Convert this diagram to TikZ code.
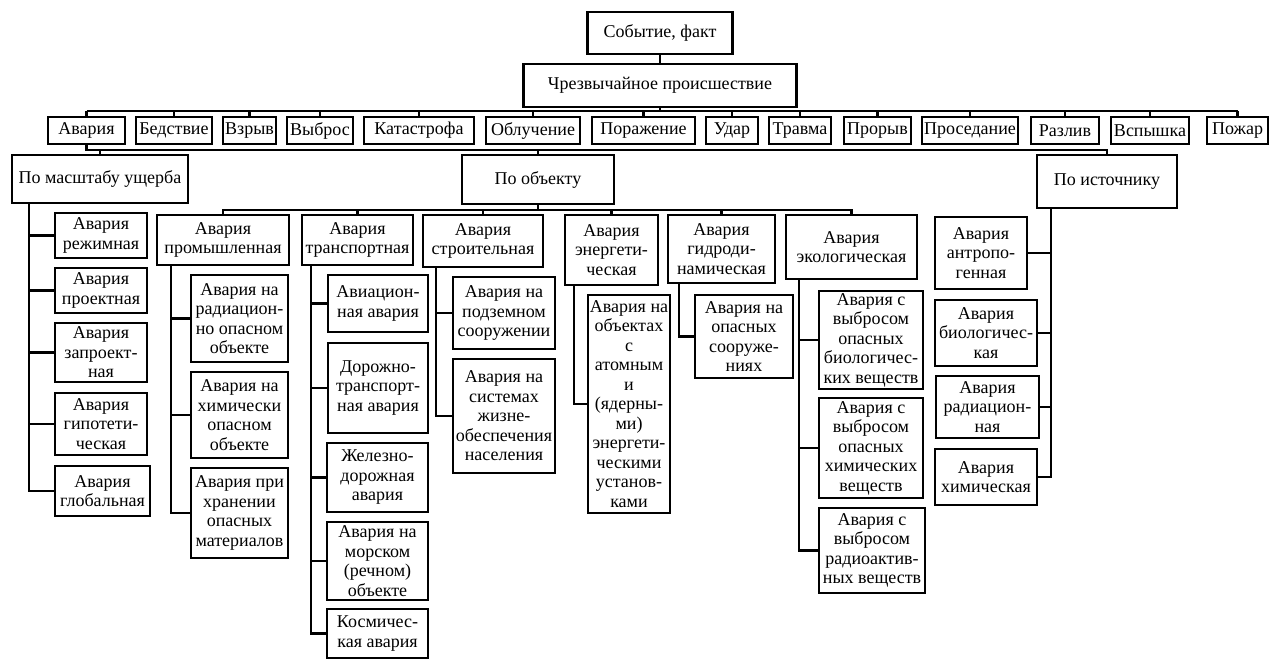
\documentclass[tikz,border=0pt]{standalone}
\usepackage{fontspec}
\setmainfont{Liberation Serif}
\begin{document}
\begin{tikzpicture}[x=1pt, y=-1pt,
    box/.style 2 args={draw, line width=2.6pt, align=center, inner sep=1pt,
      minimum width=#1, minimum height=#2, font=\fontsize{18}{19.5}\selectfont},
    link/.style={line width=2.2pt}]
  \useasboundingbox (0,0) rectangle (1276,659);
  % top
  \node[box={145}{42}] (sob) at (660,33) {Событие, факт};
  \node[box={273}{43}] (chp) at (660,85.5) {Чрезвычайное происшествие};
  % events
  \node[box={77}{27}] (avar) at (86.5,130.5) {Авария};
  \node[box={76}{27}] (bedst) at (174,130.5) {Бедствие};
  \node[box={53}{27}] (vzryv) at (249.5,130.5) {Взрыв};
  \node[box={66}{27}] (vybr) at (320,130.5) {Выброс};
  \node[box={110}{27}] (katas) at (419,130.5) {Катастрофа};
  \node[box={94}{27}] (obluch) at (533,130.5) {Облучение};
  \node[box={103}{27}] (porazh) at (643.5,130.5) {Поражение};
  \node[box={52}{27}] (udar) at (732,130.5) {Удар};
  \node[box={62}{27}] (travma) at (800,130.5) {Травма};
  \node[box={67}{27}] (proryv) at (877.5,130.5) {Прорыв};
  \node[box={96}{27}] (prosed) at (970,130.5) {Проседание};
  \node[box={68}{27}] (razliv) at (1065,130.5) {Разлив};
  \node[box={78}{27}] (vspysh) at (1150,130.5) {Вспышка};
  \node[box={61}{27}] (pozhar) at (1237.5,130.5) {Пожар};
  % classes
  \node[box={176}{48}] (masht) at (100,179) {По масштабу ущерба};
  \node[box={152}{49}] (obj) at (538,179.5) {По объекту};
  \node[box={140}{53}] (ist) at (1107,181.5) {По источнику};
  % by scale
  \node[box={92}{45}] (rezh) at (101,235.5) {Авария\\режимная};
  \node[box={92}{45}] (proekt) at (101,290.5) {Авария\\проектная};
  \node[box={92}{59}] (zaproekt) at (101,352.5) {Авария\\запроект-\\ная};
  \node[box={92}{62}] (gipot) at (101,424) {Авария\\гипотети-\\ческая};
  \node[box={95}{50}] (glob) at (102.5,491) {Авария\\глобальная};
  % by object
  \node[box={132}{50}] (prom) at (223,240) {Авария\\промышленная};
  \node[box={111}{50}] (trans) at (357.5,240) {Авария\\транспортная};
  \node[box={120}{52}] (stroit) at (483,241) {Авария\\строительная};
  \node[box={93}{70}] (energ) at (611.5,250) {Авария\\энергети-\\ческая};
  \node[box={107}{68}] (gidro) at (721.5,249) {Авария\\гидроди-\\намическая};
  \node[box={131}{64}] (ekol) at (851.5,247) {Авария\\экологическая};
  \node[box={97}{87}] (radob) at (239.5,318.5) {Авария на\\радиацион-\\но опасном\\объекте};
  \node[box={97}{86}] (khimob) at (239.5,415) {Авария на\\химически\\опасном\\объекте};
  \node[box={97}{90}] (khran) at (239.5,513) {Авария при\\хранении\\опасных\\материалов};
  \node[box={100}{57}] (avia) at (378,303.5) {Авиацион-\\ная авария};
  \node[box={100}{90}] (dtp) at (378,388) {Дорожно-\\транспорт-\\ная авария};
  \node[box={101}{69}] (zhd) at (377.5,477.5) {Железно-\\дорожная\\авария};
  \node[box={101}{78}] (morsk) at (377.5,561) {Авария на\\морском\\(речном)\\объекте};
  \node[box={101}{49}] (kosm) at (377.5,633.5) {Космичес-\\кая авария};
  \node[box={102}{72}] (podz) at (504,313) {Авария на\\подземном\\сооружении};
  \node[box={102}{114}] (sist) at (504,416) {Авария на\\системах\\жизне-\\обеспечения\\населения};
  \node[box={82}{218}] (atom) at (629,404) {Авария на\\объектах\\с\\атомным\\и\\(ядерны-\\ми)\\энергети-\\ческими\\установ-\\ками};
  \node[box={98}{83}] (opsoor) at (744,336.5) {Авария на\\опасных\\сооруже-\\ниях};
  \node[box={104}{98}] (biolv) at (871,340) {Авария с\\выбросом\\опасных\\биологичес-\\ких веществ};
  \node[box={104}{100}] (khimv) at (871,448) {Авария с\\выбросом\\опасных\\химических\\веществ};
  \node[box={106}{85}] (radv) at (872,550.5) {Авария с\\выбросом\\радиоактив-\\ных веществ};
  % by source
  \node[box={92}{72}] (antrop) at (981,253) {Авария\\антропо-\\генная};
  \node[box={102}{66}] (biolog) at (986,333) {Авария\\биологичес-\\кая};
  \node[box={103}{62}] (radiac) at (987.5,407) {Авария\\радиацион-\\ная};
  \node[box={102}{56}] (khimich) at (986,477) {Авария\\химическая};

  \coordinate (b1) at (0,111);
  \coordinate (b2) at (0,150);
  \coordinate (b3) at (0,210);
  \coordinate (t1) at ([xshift=18pt]masht.south west);
  \coordinate (t2) at ([xshift=15pt]prom.south west);
  \coordinate (t3) at ([xshift=10pt]trans.south west);
  \coordinate (t4) at ([xshift=14pt]stroit.south west);
  \coordinate (t5) at ([xshift=10pt]energ.south west);
  \coordinate (t6) at ([xshift=12pt]gidro.south west);
  \coordinate (t7) at ([xshift=14pt]ekol.south west);
  \coordinate (t8) at ([xshift=15pt]ist.south west);

  \begin{scope}[link]
    \draw (sob) -- (chp);
    \draw (chp.south) -- (chp |- b1);
    \draw (avar |- b1) -- (pozhar |- b1);
    \draw (avar.north) -- (avar |- b1);
    \draw (bedst.north) -- (bedst |- b1);
    \draw (vzryv.north) -- (vzryv |- b1);
    \draw (vybr.north) -- (vybr |- b1);
    \draw (katas.north) -- (katas |- b1);
    \draw (obluch.north) -- (obluch |- b1);
    \draw (porazh.north) -- (porazh |- b1);
    \draw (udar.north) -- (udar |- b1);
    \draw (travma.north) -- (travma |- b1);
    \draw (proryv.north) -- (proryv |- b1);
    \draw (prosed.north) -- (prosed |- b1);
    \draw (razliv.north) -- (razliv |- b1);
    \draw (vspysh.north) -- (vspysh |- b1);
    \draw (pozhar.north) -- (pozhar |- b1);
    \draw (avar.south) -- (avar |- b2) -- (ist |- b2) -- (ist.north);
    \draw (masht.north) -- (masht |- b2);
    \draw (obj.north) -- (obj |- b2);
    \draw (obj.south) -- (obj |- b3);
    \draw (prom.north) -- (prom |- b3) -- (ekol |- b3) -- (ekol.north);
    \draw (trans.north) -- (trans |- b3);
    \draw (stroit.north) -- (stroit |- b3);
    \draw (energ.north) -- (energ |- b3);
    \draw (gidro.north) -- (gidro |- b3);
    % trunks
    \draw (t1) |- (glob.west);
    \draw (rezh.west) -- (rezh.west -| t1);
    \draw (proekt.west) -- (proekt.west -| t1);
    \draw (zaproekt.west) -- (zaproekt.west -| t1);
    \draw (gipot.west) -- (gipot.west -| t1);
    \draw (t2) |- (khran.west);
    \draw (radob.west) -- (radob.west -| t2);
    \draw (khimob.west) -- (khimob.west -| t2);
    \draw (t3) |- (kosm.west);
    \draw (avia.west) -- (avia.west -| t3);
    \draw (dtp.west) -- (dtp.west -| t3);
    \draw (zhd.west) -- (zhd.west -| t3);
    \draw (morsk.west) -- (morsk.west -| t3);
    \draw (t4) |- (sist.west);
    \draw (podz.west) -- (podz.west -| t4);
    \draw (t5) |- (atom.west);
    \draw (t6) |- (opsoor.west);
    \draw (t7) |- (radv.west);
    \draw (biolv.west) -- (biolv.west -| t7);
    \draw (khimv.west) -- (khimv.west -| t7);
    \draw (t8) |- (khimich.east);
    \draw (antrop.east) -- (antrop.east -| t8);
    \draw (biolog.east) -- (biolog.east -| t8);
    \draw (radiac.east) -- (radiac.east -| t8);
  \end{scope}
\end{tikzpicture}
\end{document}
